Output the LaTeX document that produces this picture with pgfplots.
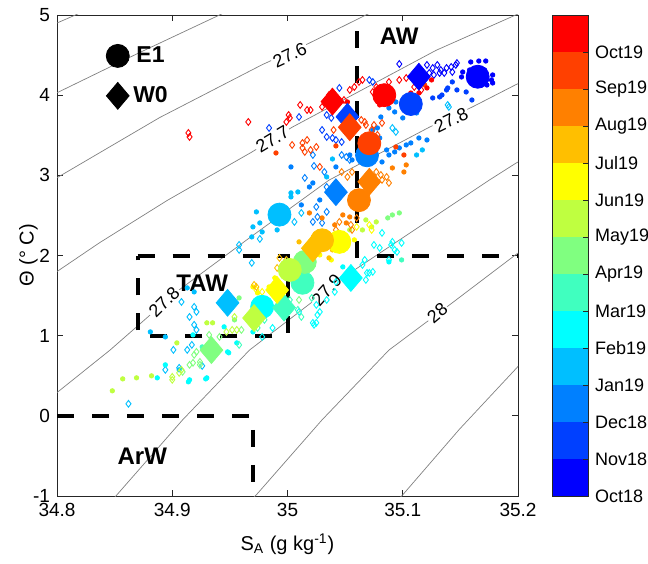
\documentclass[border=0pt]{standalone}
\usepackage{pgfplots}
\pgfplotsset{compat=1.18}
\usepackage{fontspec}
\setmainfont{Liberation Sans}

% jet(13), one colour per month, Oct18 ... Oct19
\definecolor{c0}{RGB}{0,0,255}
\definecolor{c1}{RGB}{0,64,255}
\definecolor{c2}{RGB}{0,128,255}
\definecolor{c3}{RGB}{0,191,255}
\definecolor{c4}{RGB}{0,255,255}
\definecolor{c5}{RGB}{64,255,191}
\definecolor{c6}{RGB}{128,255,128}
\definecolor{c7}{RGB}{191,255,64}
\definecolor{c8}{RGB}{255,255,0}
\definecolor{c9}{RGB}{255,191,0}
\definecolor{c10}{RGB}{255,128,0}
\definecolor{c11}{RGB}{255,64,0}
\definecolor{c12}{RGB}{255,0,0}

\pgfplotsset{
  sdot/.style={forget plot, only marks, mark=*, mark size=1.1pt, color=#1},
  sdia/.style={forget plot, only marks, mark=diamond, mark size=1.7pt, color=#1, mark options={line width=0.45pt}},
  bdot/.style={forget plot, only marks, mark=*, mark size=5.75pt, color=#1},
  bdia/.style={forget plot, only marks, mark=diamond*, mark size=6.7pt, color=#1, mark options={xscale=1.13}},
  iso/.style={forget plot, no marks, color=black!50, line width=0.35pt},
  wm/.style={forget plot, no marks, black, line width=2pt, dash pattern=on 8.5pt off 9pt},
}

\begin{document}
\begin{tikzpicture}[lbl/.style={fill=white, inner sep=0.8pt, font=\fontsize{9}{10}\selectfont}]
\begin{axis}[
  name=main, at={(0pt,0pt)}, anchor=south west,
  width=230.5pt, height=240.5pt, scale only axis,
  xmin=34.8, xmax=35.2, ymin=-1, ymax=5,
  xtick={34.8,34.9,35,35.1,35.2}, xticklabels={34.8,34.9,35,35.1,35.2},
  ytick={-1,0,1,2,3,4,5}, yticklabels={-1,0,1,2,3,4,5},
  tick align=inside, major tick length=3pt,
  axis line style={black!85, line width=0.4pt},
  tick style={black!85, line width=0.4pt},
  tick label style={font=\fontsize{9.5}{11}\selectfont},
  xlabel={S\textsubscript{A} (g kg\textsuperscript{-1})},
  ylabel={Θ (° C)},
  label style={font=\fontsize{11}{13}\selectfont},
  every axis x label/.style={at={(axis description cs:0.5,-0.1)}, anchor=center},
  every axis y label/.style={at={(axis description cs:-0.062,0.5)}, anchor=center, rotate=90},
  legend style={at={(axis description cs:0.093,0.952)}, anchor=north west, draw=none, fill=none,
    font=\bfseries\fontsize{11.5}{13}\selectfont, row sep=6.5pt},
]
% isopycnals (sigma0)
\addplot[iso] coordinates {(34.79,4.84) (34.8,4.90) (34.816,5.0) (34.83,5.09)};
\addplot[iso] coordinates {(34.79,3.96) (34.8,4.03) (34.87,4.52) (34.941,5.0) (34.95,5.06)};
\addplot[iso] coordinates {(34.79,2.90) (34.8,2.97) (34.889,3.72) (34.978,4.38) (35.019,4.65) (35.068,5.0) (35.08,5.08)};
\addplot[iso] coordinates {(34.79,1.69) (34.8,1.80) (34.837,2.16) (34.896,2.69) (34.969,3.29) (35.004,3.60) (35.129,4.56) (35.198,5.0) (35.21,5.07)};
\addplot[iso] coordinates {(34.79,0.17) (34.8,0.29) (34.846,0.82) (34.904,1.55) (34.967,2.22) (35.036,2.94) (35.123,3.60) (35.160,3.85) (35.198,4.13) (35.21,4.21)};
\addplot[iso] coordinates {(34.845,-1.1) (34.852,-0.985) (34.909,-0.05) (34.967,0.82) (35.054,1.78) (35.175,2.94) (35.198,3.15) (35.21,3.25)};
\addplot[iso] coordinates {(34.965,-1.1) (34.973,-0.985) (35.030,-0.05) (35.088,0.82) (35.143,1.41) (35.198,2.01) (35.21,2.13)};
\addplot[iso] coordinates {(35.092,-1.1) (35.100,-0.985) (35.149,-0.17) (35.199,0.60) (35.21,0.78)};
\node[lbl, rotate=25] at (axis cs:35.002,4.50) {27.6};
\node[lbl, rotate=31] at (axis cs:34.987,3.45) {27.7};
\node[lbl, rotate=26] at (axis cs:35.142,3.69) {27.8};
\node[lbl, rotate=45] at (axis cs:34.893,1.42) {27.8};
\node[lbl, rotate=48] at (axis cs:35.034,1.57) {27.9};
\node[lbl, rotate=40] at (axis cs:35.130,1.28) {28};

% small points: E1 (dots) and W0 (open diamonds), by month
\addplot[sdot=c0] coordinates {(35.159,4.414) (35.166,4.426) (35.172,4.426) (35.152,4.289) (35.151,4.227) (35.178,4.252) (35.177,4.190) (35.178,4.152) (35.173,4.127) (35.158,4.314) (35.171,4.314)};
\addplot[sdia=c0] coordinates {(35.097,4.389) (35.121,4.377) (35.126,4.339) (35.130,4.377) (35.133,4.314) (35.138,4.339) (35.142,4.352) (35.146,4.377) (35.147,4.401) (35.143,4.289) (35.136,4.277) (35.132,4.277) (35.123,4.277) (35.127,4.252)};
\addplot[sdot=c1] coordinates {(35.143,4.165) (35.139,4.090) (35.134,4.002) (35.155,4.040) (35.160,3.940) (35.147,4.065) (35.126,3.965) (35.132,3.978) (35.138,4.065)};
\addplot[sdia=c1] coordinates {(34.984,3.591) (35.010,3.728) (35.034,3.753) (35.038,3.716) (35.030,3.566) (35.034,3.479) (35.039,3.466) (35.042,3.441) (35.047,3.416) (35.045,4.090) (35.071,4.190) (35.074,4.165) (35.077,4.027)};
\addplot[sdot=c2] coordinates {(35.003,3.105) (35.022,2.905) (35.042,3.105) (35.054,3.254) (35.056,3.192) (35.012,2.631) (35.028,2.693) (35.019,2.855) (35.081,3.728) (35.088,3.840) (35.094,3.915) (35.093,3.791) (35.100,3.716) (35.078,3.591) (35.074,3.566) (35.080,3.466) (35.075,3.441) (35.086,3.317) (35.121,3.441) (35.114,3.466) (35.107,3.404) (35.103,3.379) (35.097,3.342) (35.093,3.292) (35.088,3.254) (35.082,3.167) (35.112,3.778)};
\addplot[sdia=c2] coordinates {(35.015,2.968) (35.023,3.117) (35.032,3.042) (35.022,3.254) (35.025,2.606) (35.026,2.481) (35.034,2.544) (35.030,2.406) (35.022,2.419) (35.034,2.855) (35.047,3.254) (35.051,3.229) (35.054,3.192)};
\addplot[sdot=c3] coordinates {(35.003,2.781) (35.009,2.793) (35.034,2.980) (35.039,3.204) (34.973,2.544) (34.976,2.406) (34.978,2.294) (34.970,2.357) (34.969,2.232) (35.003,2.731) (34.991,2.319) (34.881,1.047) (34.894,0.985) (34.919,1.546) (34.913,1.596) (34.906,0.574) (35.112,3.254) (35.117,3.317)};
\addplot[sdia=c3] coordinates {(35.006,2.419) (35.012,2.531) (34.976,2.207) (34.958,2.132) (34.958,2.070) (34.969,1.908) (34.908,1.421) (34.919,1.359) (34.921,1.297) (34.915,1.234) (34.919,1.135) (34.921,1.072) (34.917,0.885) (34.913,0.823) (34.901,0.823) (34.894,0.574) (34.906,0.599) (34.862,0.150) (34.926,0.623) (35.091,3.591) (35.094,3.541) (35.139,3.878) (35.140,3.853)};
\addplot[sdot=c4] coordinates {(34.918,1.010) (34.915,0.449) (34.930,0.474) (34.948,0.798) (34.956,0.910) (34.945,1.110) (34.970,1.047) (34.987,1.359) (34.887,0.474) (34.894,0.636) (34.914,0.424) (34.929,0.461) (34.949,0.786) (35.048,1.858) (35.088,1.920)};
\addplot[sdia=c4] coordinates {(34.978,0.985) (34.987,1.097) (35.082,2.282) (35.091,2.170) (35.090,2.132) (35.099,2.157) (35.093,2.070) (35.095,2.045) (35.065,1.883) (35.069,1.783) (35.074,1.796) (35.068,1.696) (35.042,1.671) (35.041,1.546) (35.034,1.446) (35.025,1.384) (35.028,1.297) (35.022,1.160) (35.025,1.160) (35.010,1.297) (35.075,2.132) (35.080,2.095) (35.088,1.945) (35.071,1.783) (35.067,1.945) (35.026,1.259) (35.023,1.135)};
\addplot[sdot=c5] coordinates {(34.926,0.860) (35.099,1.945)};
\addplot[sdia=c5] coordinates {(35.012,1.234) (35.009,1.322) (35.021,1.471) (34.980,1.197) (35.002,1.446) (34.996,1.259) (34.958,0.885) (34.974,1.097)};
\addplot[sdot=c6] coordinates {(35.087,2.469) (35.091,2.506) (35.097,2.531) (34.958,1.471) (34.954,1.197)};
\addplot[sdia=c6] coordinates {(34.915,0.636) (34.918,0.661) (34.924,0.636) (34.921,0.798) (34.924,0.673) (34.919,0.761) (34.909,0.549) (34.932,1.010) (34.941,0.985) (35.015,1.633) (35.010,1.446) (34.960,1.072)};
\addplot[sdot=c7] coordinates {(34.848,0.312) (34.857,0.461) (34.869,0.474) (34.882,0.499) (34.904,0.910) (34.930,1.160) (34.935,1.160) (35.068,2.444) (35.077,2.419) (35.073,2.357) (35.054,2.319) (35.065,2.319)};
\addplot[sdia=c7] coordinates {(34.954,1.234) (34.965,1.234) (34.947,1.047) (34.952,1.072) (34.956,1.072) (34.906,0.536) (34.908,0.574) (34.900,0.449) (34.900,0.486)};
\addplot[sdot=c8] coordinates {(35.028,2.007) (35.038,1.945) (34.989,1.721) (34.984,1.608) (34.974,1.534) (34.970,1.608) (35.058,2.195)};
\addplot[sdia=c8] coordinates {(35.060,2.357) (35.073,2.319) (35.071,2.382) (34.973,1.571) (34.978,1.546)};
\addplot[sdot=c9] coordinates {(35.013,1.970) (35.010,2.170) (35.036,1.970) (35.039,2.070)};
\addplot[sdia=c9] coordinates {(35.026,2.257) (35.029,2.219) (34.999,1.945) (34.993,1.970) (35.008,1.945) (34.996,1.820) (34.991,1.845) (34.971,1.633) (34.973,1.608) (35.036,2.257) (35.049,2.257)};
\addplot[sdot=c10] coordinates {(35.019,2.531) (35.030,2.469) (35.041,2.382) (35.051,2.406) (35.054,2.481) (35.048,2.506) (35.091,3.092) (35.101,3.042) (35.103,3.130)};
\addplot[sdia=c10] coordinates {(35.047,3.042) (35.052,2.980) (35.056,3.042) (35.077,3.042) (35.081,3.005) (35.086,2.980) (35.082,2.943) (35.088,2.905) (35.045,2.419) (35.055,2.382) (35.042,2.319) (35.056,2.319) (35.060,2.469) (35.078,2.918)};
\addplot[sdot=c11] coordinates {(34.990,3.279) (35.042,3.367) (35.119,4.127) (35.094,3.354) (35.101,3.254)};
\addplot[sdia=c11] coordinates {(35.004,3.379) (35.013,3.404) (35.013,3.342) (35.017,3.441) (35.025,3.354) (35.020,3.317) (35.015,3.292) (35.028,3.105) (35.040,3.566) (35.064,3.691) (35.067,3.666) (35.068,3.628) (35.075,3.628) (35.073,3.566) (35.078,3.504) (35.082,3.653)};
\addplot[sdot=c12] coordinates {(35.107,4.027) (35.114,4.027) (35.125,4.190) (35.121,4.090) (35.052,3.915) (35.080,3.878)};
\addplot[sdia=c12] coordinates {(34.914,3.529) (34.915,3.479) (34.966,3.666) (34.999,3.666) (35.002,3.716) (35.001,3.753) (35.011,3.878) (35.017,3.815) (35.020,3.815) (35.030,3.853) (35.054,4.065) (35.058,4.102) (35.062,4.165) (35.065,4.190) (35.074,4.040) (35.077,4.102) (35.088,4.165) (35.097,4.190) (35.103,4.214) (35.110,4.102) (35.116,4.065) (35.049,3.940) (35.036,4.002)};

% monthly means: E1 (circles), W0 (diamonds)
\addplot[bdot=c0] coordinates {(35.165,4.23)};
\addplot[bdia=c0] coordinates {(35.114,4.23)};
\addplot[bdot=c1] coordinates {(35.107,3.89)};
\addplot[bdia=c1] coordinates {(35.052,3.73)};
\addplot[bdot=c2] coordinates {(35.069,3.25)};
\addplot[bdia=c2] coordinates {(35.042,2.79)};
\addplot[bdot=c3] coordinates {(34.993,2.51)};
\addplot[bdia=c3] coordinates {(34.948,1.41)};
\addplot[bdot=c4] coordinates {(34.978,1.36)};
\addplot[bdia=c4] coordinates {(35.055,1.72)};
\addplot[bdot=c5] coordinates {(35.013,1.66)};
\addplot[bdia=c5] coordinates {(34.997,1.35)};
\addplot[bdot=c6] coordinates {(35.015,1.92)};
\addplot[bdia=c6] coordinates {(34.934,0.82)};
\addplot[bdot=c7] coordinates {(35.002,1.82)};
\addplot[bdia=c7] coordinates {(34.971,1.22)};
\addplot[bdot=c8] coordinates {(35.045,2.17)};
\addplot[bdia=c8] coordinates {(34.991,1.57)};
\addplot[bdot=c9] coordinates {(35.030,2.19)};
\addplot[bdia=c9] coordinates {(35.022,2.09)};
\addplot[bdot=c10] coordinates {(35.062,2.69)};
\addplot[bdia=c10] coordinates {(35.071,2.92)};
\addplot[bdot=c11] coordinates {(35.071,3.40)};
\addplot[bdia=c11] coordinates {(35.054,3.60)};
\addplot[bdot=c12] coordinates {(35.084,4.00)};
\addplot[bdia=c12] coordinates {(35.039,3.92)};

% water masses
\addplot[wm] coordinates {(35.06,4.8) (35.06,2) (35.2,2)};
\addplot[wm] coordinates {(34.87,2) (35.0,2) (35.0,1) (34.87,1) (34.87,2)};
\addplot[wm] coordinates {(34.8,0) (34.97,0) (34.97,-1)};
\node[font=\bfseries\fontsize{12}{14}\selectfont] at (axis cs:35.097,4.74) {AW};
\node[font=\bfseries\fontsize{12}{14}\selectfont] at (axis cs:34.926,1.65) {TAW};
\node[font=\bfseries\fontsize{12}{14}\selectfont] at (axis cs:34.874,-0.50) {ArW};

\addlegendimage{only marks, mark=*, mark size=5.75pt, black}
\addlegendentry{E1}
\addlegendimage{only marks, mark=diamond*, mark size=6.7pt, black, mark options={xscale=1.13}}
\addlegendentry{W0}
\end{axis}

% colour bar
\begin{axis}[
  at={(247.5pt,0pt)}, anchor=south west,
  width=18pt, height=240.5pt, scale only axis,
  xmin=0, xmax=1, ymin=0, ymax=13,
  xtick=\empty, ytick={0,1,...,12},
  yticklabels={Oct18,Nov18,Dec18,Jan19,Feb19,Mar19,Apr19,May19,Jun19,Jul19,Aug19,Sep19,Oct19},
  ytick pos=right, yticklabel pos=right,
  tick align=inside, major tick length=2.5pt,
  axis on top,
  axis line style={black!85, line width=0.4pt},
  tick style={black!85, line width=0.4pt},
  tick label style={font=\fontsize{9}{11}\selectfont},
]
\addplot[fill=c0, draw=none, no marks] coordinates {(0,0) (1,0) (1,1) (0,1)} -- cycle;
\addplot[fill=c1, draw=none, no marks] coordinates {(0,1) (1,1) (1,2) (0,2)} -- cycle;
\addplot[fill=c2, draw=none, no marks] coordinates {(0,2) (1,2) (1,3) (0,3)} -- cycle;
\addplot[fill=c3, draw=none, no marks] coordinates {(0,3) (1,3) (1,4) (0,4)} -- cycle;
\addplot[fill=c4, draw=none, no marks] coordinates {(0,4) (1,4) (1,5) (0,5)} -- cycle;
\addplot[fill=c5, draw=none, no marks] coordinates {(0,5) (1,5) (1,6) (0,6)} -- cycle;
\addplot[fill=c6, draw=none, no marks] coordinates {(0,6) (1,6) (1,7) (0,7)} -- cycle;
\addplot[fill=c7, draw=none, no marks] coordinates {(0,7) (1,7) (1,8) (0,8)} -- cycle;
\addplot[fill=c8, draw=none, no marks] coordinates {(0,8) (1,8) (1,9) (0,9)} -- cycle;
\addplot[fill=c9, draw=none, no marks] coordinates {(0,9) (1,9) (1,10) (0,10)} -- cycle;
\addplot[fill=c10, draw=none, no marks] coordinates {(0,10) (1,10) (1,11) (0,11)} -- cycle;
\addplot[fill=c11, draw=none, no marks] coordinates {(0,11) (1,11) (1,12) (0,12)} -- cycle;
\addplot[fill=c12, draw=none, no marks] coordinates {(0,12) (1,12) (1,13) (0,13)} -- cycle;
\end{axis}
\pgfresetboundingbox
\path[use as bounding box] (-28.5pt,-33.5pt) rectangle (295.5pt,248pt);
\end{tikzpicture}
\end{document}
